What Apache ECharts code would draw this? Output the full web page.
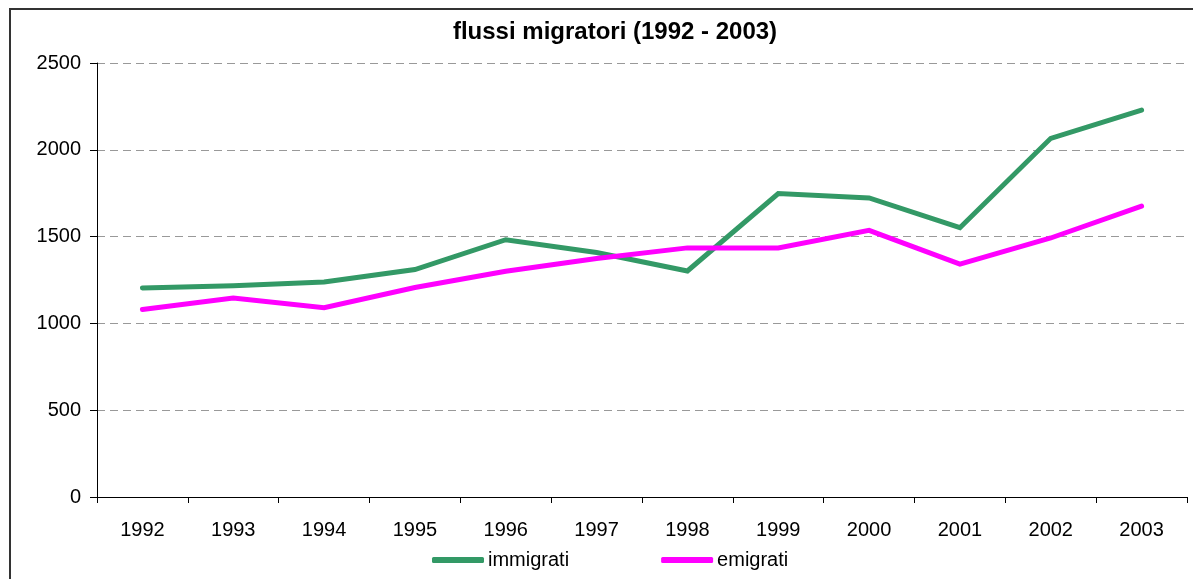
<!DOCTYPE html>
<html>
<head>
<meta charset="utf-8">
<script src="https://cdn.jsdelivr.net/npm/echarts@6/dist/echarts.min.js"></script>
<style>
  html, body { margin: 0; padding: 0; background: #fff; }
  #frame {
    position: absolute; left: 9px; top: 8px;
    width: 1200px; height: 600px;
    border: 2px solid #333;
    box-sizing: border-box;
  }
  #chart { position: absolute; left: 0; top: 0; width: 1193px; height: 579px; }
</style>
</head>
<body>
<div id="frame"></div>
<div id="chart"></div>
<script>
var years = ["1992", "1993", "1994", "1995", "1996", "1997", "1998", "1999", "2000", "2001", "2002", "2003"];
var immigrati = [1204, 1217, 1238, 1310, 1482, 1408, 1302, 1748, 1723, 1551, 2066, 2229];
var emigrati = [1080, 1146, 1090, 1207, 1300, 1374, 1435, 1435, 1536, 1342, 1492, 1676];

var myChart = echarts.init(document.getElementById("chart"));
var options = {
  backgroundColor: "transparent",
  animation: false,
  title: {
    text: "flussi migratori (1992 - 2003)",
    left: 610,
    top: 15,
    textAlign: "center",
    textStyle: { fontFamily: "Liberation Sans", fontSize: 24, fontWeight: "bold", color: "#000" },
  },
  grid: { left: 97, right: 6, top: 63, bottom: 82, containLabel: false },
  legend: {
    top: 545,
    left: 427,
    itemWidth: 52,
    itemHeight: 6,
    itemGap: 92,
    icon: "roundRect",
    textStyle: { fontFamily: "Liberation Sans", fontSize: 20, color: "#000", padding: [0, 0, 0, -1] },
    data: ["immigrati", "emigrati"],
  },
  xAxis: {
    type: "category",
    data: years,
    boundaryGap: true,
    axisLine: { lineStyle: { color: "#000", width: 1 } },
    axisTick: { show: true, length: 6, lineStyle: { color: "#000" } },
    axisLabel: { fontFamily: "Liberation Sans", fontSize: 20, color: "#000", margin: 23 },
  },
  yAxis: {
    type: "value",
    min: 0,
    max: 2500,
    interval: 500,
    axisLine: { show: true, lineStyle: { color: "#000", width: 1 } },
    axisTick: { show: true, length: 7, lineStyle: { color: "#000" } },
    axisLabel: {
      fontFamily: "Liberation Sans", fontSize: 20, color: "#000", margin: 16,
      formatter: function (v) { return String(v); },
    },
    splitLine: { lineStyle: { color: "#999", type: [8, 5], width: 1 } },
  },
  series: [
    {
      name: "immigrati",
      type: "line",
      data: immigrati,
      showSymbol: false,
      color: "#339966",
      lineStyle: { width: 5, color: "#339966", cap: "round", join: "miter" },
    },
    {
      name: "emigrati",
      type: "line",
      data: emigrati,
      showSymbol: false,
      color: "#FF00FF",
      lineStyle: { width: 5, color: "#FF00FF", cap: "round", join: "miter" },
    },
  ],
};
myChart.setOption(options);
</script>
</body>
</html>
